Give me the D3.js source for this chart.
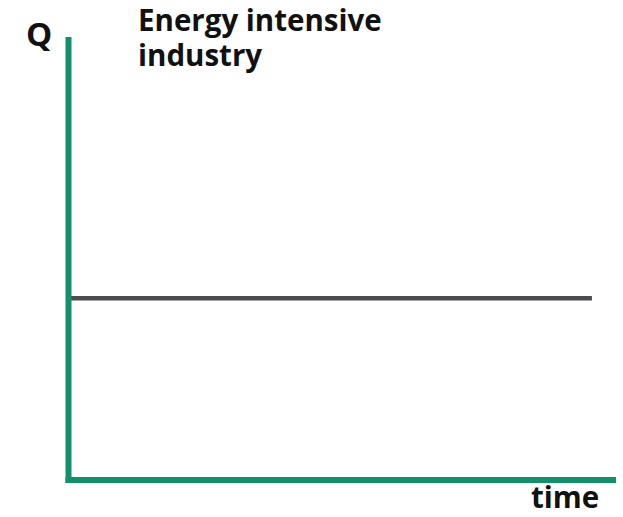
<!DOCTYPE html>
<html>
<head>
<meta charset="utf-8">
<script src="https://cdn.jsdelivr.net/npm/d3@7"></script>
<style>
  html, body { margin: 0; padding: 0; background: #fff; }
  text { font-family: "Open Sans", "Noto Sans", sans-serif; font-weight: 700; fill: #111; }
</style>
</head>
<body>
<svg id="chart" width="623" height="517"></svg>
<script>
// Data
const timePoints = [0, 95.6];
const qValues = [41, 41];
const titleLines = ["Energy intensive", "industry"];
const yLabel = "Q";
const xLabel = "time";

const svg = d3.select("#chart");
const margin = { left: 68.5, right: 7, top: 37, bottom: 37 };
const W = 623, H = 517;

const x = d3.scaleLinear().domain([0, 100]).range([margin.left, W - margin.right]);
const y = d3.scaleLinear().domain([0, 100]).range([H - margin.bottom, margin.top]);

const green = "#138f6b";

// Line
const line = d3.line().x(d => x(d[0])).y(d => y(d[1]));
svg.append("path")
  .datum(timePoints.map((t, i) => [t, qValues[i]]))
  .attr("d", line)
  .attr("fill", "none")
  .attr("stroke", "#4b4b50")
  .attr("stroke-width", 4.5);

// Axes
const yAxis = svg.append("g")
  .attr("transform", `translate(${margin.left},0)`)
  .call(d3.axisLeft(y).tickValues([]).tickSizeOuter(0));
yAxis.select(".domain").attr("stroke", green).attr("stroke-width", 6)
  .attr("d", `M0,${y(100)}V${y(0) + 3}`);

const xAxis = svg.append("g")
  .attr("transform", `translate(0,${y(0)})`)
  .call(d3.axisBottom(x).tickValues([]).tickSizeOuter(0));
xAxis.select(".domain").attr("stroke", green).attr("stroke-width", 6)
  .attr("d", `M${x(0) - 3},0H${x(100)}`);

// Labels
svg.append("text").attr("x", 26).attr("y", 46).attr("font-size", 33).text(yLabel);

const title = svg.append("text").attr("x", 138).attr("y", 31).attr("font-size", 29.5);
title.selectAll("tspan").data(titleLines).join("tspan")
  .attr("x", 138).attr("dy", (d, i) => i === 0 ? 0 : 35).text(d => d);

svg.append("text").attr("x", 531).attr("y", 508).attr("font-size", 29.5).text(xLabel);
</script>
</body>
</html>
